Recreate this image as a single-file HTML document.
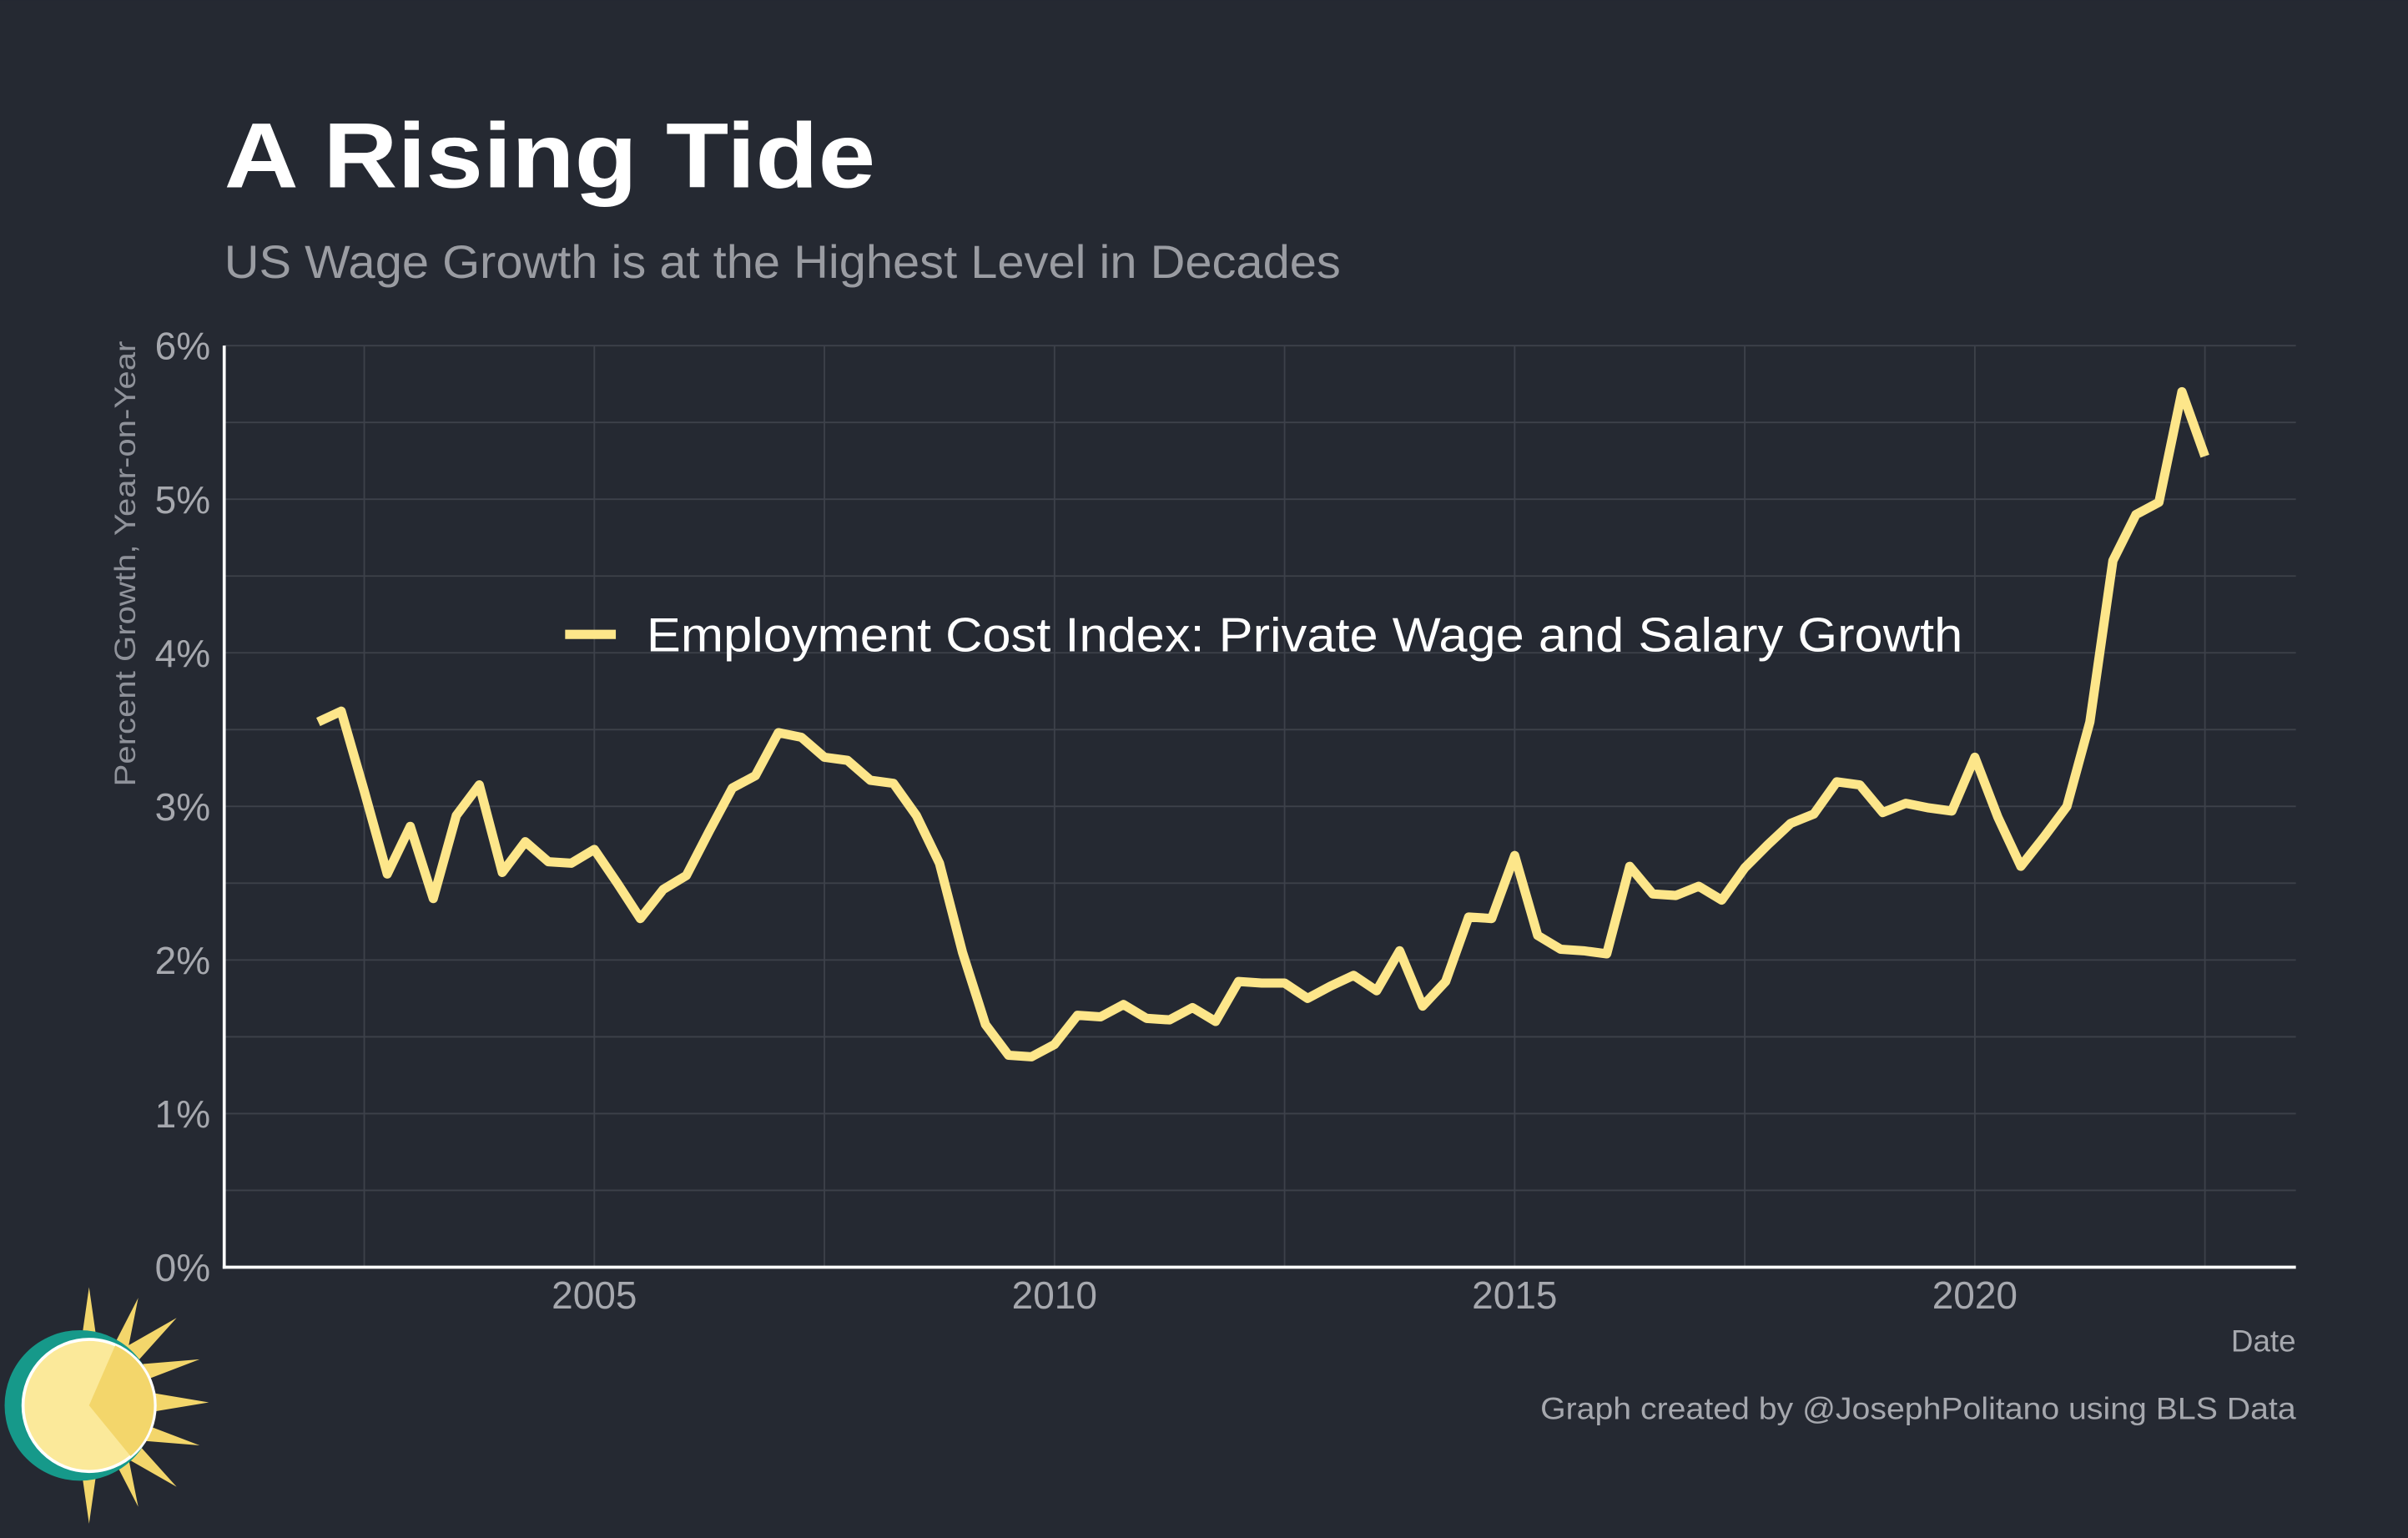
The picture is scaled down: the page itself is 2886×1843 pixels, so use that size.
<!DOCTYPE html>
<html><head><meta charset="utf-8"><style>
html,body{margin:0;padding:0;background:#252932;}
svg{display:block;font-family:"Liberation Sans",Arial,sans-serif;}
</style></head><body>
<svg id="chart" width="2886" height="1843" viewBox="0 0 1568 1001.3" xmlns="http://www.w3.org/2000/svg">
<rect x="0" y="0" width="1568" height="1002" fill="#252932"/>
<text x="146" y="122" fill="#ffffff" font-size="60" font-weight="bold" textLength="424" lengthAdjust="spacingAndGlyphs">A Rising Tide</text>
<text x="146" y="181" fill="#9a9ca2" font-size="30" textLength="727" lengthAdjust="spacingAndGlyphs">US Wage Growth is at the Highest Level in Decades</text>
<g id="grid"></g>
<g id="axes"></g>
<text transform="translate(88,367) rotate(-90)" text-anchor="middle" fill="#8f929a" font-size="19" textLength="290" lengthAdjust="spacingAndGlyphs">Percent Growth, Year-on-Year</text>
<text x="1495" y="880" text-anchor="end" fill="#a6a8ae" font-size="20">Date</text>
<text x="1003" y="924" fill="#a6a8ae" font-size="20" textLength="492" lengthAdjust="spacingAndGlyphs">Graph created by @JosephPolitano using BLS Data</text>
<g>
<line x1="368" y1="413" x2="401" y2="413" stroke="#fde68a" stroke-width="6"/>
<text x="421" y="424" fill="#ffffff" font-size="31" textLength="857" lengthAdjust="spacingAndGlyphs">Employment Cost Index: Private Wage and Salary Growth</text>
</g>
<g id="series"></g>
<g>
<g fill="#f3d66b">
<polygon points="58,838 64,880 52,880"/><polygon points="58,992 64,950 52,950"/>
<polygon points="136,913 100,907 100,919"/>
<polygon points="115,858 88,888 80,878"/><polygon points="115,968 88,938 80,948"/>
<polygon points="90,845 82,885 72,880"/><polygon points="90,981 82,941 72,946"/>
<polygon points="130,885 96,898 93,888"/><polygon points="130,941 96,928 93,938"/>
</g>
<circle cx="52" cy="915" r="49" fill="#16998a"/>
<circle cx="58" cy="915" r="43" fill="#fbe99a" stroke="#ffffff" stroke-width="2"/>
<path d="M58,915 L75,876 A43,43 0 0 1 85,948 Z" fill="#f3d66b"/>
</g>
<script>
const startYear = 2002.0;
const values = [3.55,3.62,3.10,2.56,2.87,2.40,2.94,3.14,2.57,2.77,2.64,2.63,2.72,2.50,2.27,2.46,2.55,2.84,3.12,3.20,3.48,3.45,3.32,3.30,3.17,3.15,2.94,2.63,2.05,1.58,1.38,1.37,1.45,1.64,1.63,1.71,1.62,1.61,1.69,1.60,1.86,1.85,1.85,1.75,1.83,1.90,1.80,2.06,1.70,1.86,2.28,2.27,2.68,2.16,2.07,2.06,2.04,2.61,2.43,2.42,2.48,2.39,2.60,2.75,2.89,2.95,3.16,3.14,2.96,3.02,2.99,2.97,3.32,2.93,2.61,2.80,3.00,3.55,4.60,4.90,4.98,5.70,5.28];
const yTicks = [0,1,2,3,4,5,6];
const yTickLabels = ["0%","1%","2%","3%","4%","5%","6%"];
const xTicks = [2005,2010,2015,2020];
const xTickLabels = ["2005","2010","2015","2020"];

const NS="http://www.w3.org/2000/svg";
const X0=146,X1=1495,Y0=825,Y1=225;
function xs(t){return 387+(t-2005)*59.93;}
function ys(v){return Y0-(v/6)*(Y0-Y1);}
function mk(tag,attrs,parent){const e=document.createElementNS(NS,tag);for(const k in attrs)e.setAttribute(k,attrs[k]);parent.appendChild(e);return e;}
const grid=document.getElementById('grid'),axes=document.getElementById('axes'),series=document.getElementById('series');
for(let v=0.5;v<=6;v+=0.5){const l=mk('line',{x1:X0,x2:X1,y1:ys(v),y2:ys(v),stroke:'#3d414a','stroke-width':1},grid);

}
for(let t=2002.5;t<=2022.6;t+=2.5){const l=mk('line',{x1:xs(t),x2:xs(t),y1:Y1,y2:Y0,stroke:'#3d414a','stroke-width':1},grid);

}
const la=mk('line',{x1:X0,x2:X0,y1:Y1,y2:Y0+1,stroke:'#ffffff','stroke-width':2},axes);


const lb=mk('line',{x1:X0-1,x2:X1,y1:Y0,y2:Y0,stroke:'#ffffff','stroke-width':2},axes);


yTicks.forEach((v,i)=>{const t=mk('text',{x:137,y:ys(v)+9,'text-anchor':'end',fill:'#a6a8ae','font-size':25},axes);t.textContent=yTickLabels[i];

});
xTicks.forEach((v,i)=>{const t=mk('text',{x:xs(v),y:852,'text-anchor':'middle',fill:'#a6a8ae','font-size':25},axes);t.textContent=xTickLabels[i];

});
const pts=values.map((v,i)=>xs(startYear+i*0.25).toFixed(2)+','+ys(v).toFixed(2)).join(' ');
const pl=mk('polyline',{points:pts,fill:'none',stroke:'#fde68a','stroke-width':6,'stroke-linejoin':'round'},series);


</script>
</svg>
</body></html>
